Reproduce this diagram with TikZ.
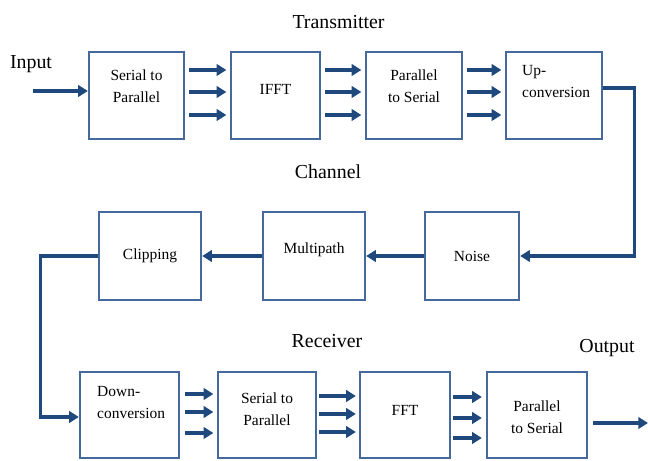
\documentclass[tikz,border=0pt]{standalone}
\usepackage{fontspec}
\setmainfont{Liberation Serif}
\usetikzlibrary{arrows.meta,positioning}
\definecolor{boxblue}{RGB}{70,105,155}
\definecolor{arrowblue}{RGB}{31,73,125}

\begin{document}
\begin{tikzpicture}[
		block/.style={draw=boxblue, line width=1.3pt, inner sep=0pt, minimum height=1.74cm},
		blocktxt/.style={font=\fontsize{8.8}{12.5}\selectfont, align=center, inner sep=0pt},
		title/.style={font=\fontsize{11.3}{13}\selectfont, inner sep=0pt},
		flow/.style={draw=arrowblue, line width=1.8pt, -{Triangle[length=5.5pt,width=6.5pt]}},
		]
		\useasboundingbox (0,0) rectangle (12.96,9.22);
	
		% --- Transmitter ---
		\node[title] (tx) at (6.77,8.78) {Transmitter};
		\node[title] (inlbl) at (0.62,7.94) {Input};
		\node[block, minimum width=1.9cm] (sp1) at (2.73,7.31) {};
		\node[block, minimum width=1.78cm] (ifft) at (5.51,7.31) {};
		\node[block, minimum width=1.92cm] (ps1) at (8.28,7.31) {};
		\node[block, minimum width=1.92cm] (up) at (11.08,7.31) {};
		\node[blocktxt] (sp1-t) at ([yshift=0.19cm]sp1.center) {Serial to\\Parallel};
		\node[blocktxt] (ifft-t) at ([yshift=0.13cm]ifft.center) {IFFT};
		\node[blocktxt] (ps1-t) at ([yshift=0.19cm]ps1.center) {Parallel\\to Serial};
		\node[blocktxt, anchor=west, align=left] (up-t) at ([xshift=0.34cm,yshift=0.27cm]up.west) {Up-\\conversion};
	
		% --- Channel ---
		\node[title] (chn) at (6.56,5.78) {Channel};
		\node[block, minimum width=1.88cm, minimum height=1.76cm] (noise) at (9.44,4.10) {};
		\node[block, minimum width=2.04cm, minimum height=1.76cm] (multi) at (6.28,4.10) {};
		\node[block, minimum width=2.04cm, minimum height=1.76cm] (clip) at (3.0,4.10) {};
		\node[blocktxt] (noise-t) at (noise.center) {Noise};
		\node[blocktxt] (multi-t) at ([yshift=0.12cm]multi.center) {Multipath};
		\node[blocktxt] (clip-t) at (clip.center) {Clipping};
	
		% --- Receiver ---
		\node[title] (rx) at (6.54,2.40) {Receiver};
		\node[title] (outlbl) at (12.14,2.26) {Output};
		\node[block, minimum width=1.98cm, minimum height=1.72cm] (down) at (2.59,0.92) {};
		\node[block, minimum width=1.96cm, minimum height=1.72cm] (sp2) at (5.34,0.92) {};
		\node[block, minimum width=1.8cm, minimum height=1.72cm] (fft) at (8.10,0.92) {};
		\node[block, minimum width=2.0cm, minimum height=1.72cm] (ps2) at (10.74,0.92) {};
		\node[blocktxt, anchor=west, align=left] (down-t) at ([xshift=0.36cm,yshift=0.25cm]down.west) {Down-\\conversion};
		\node[blocktxt] (sp2-t) at ([yshift=0.12cm]sp2.center) {Serial to\\Parallel};
		\node[blocktxt] (fft-t) at ([yshift=0.10cm]fft.center) {FFT};
		\node[blocktxt] (ps2-t) at ([yshift=-0.05cm]ps2.center) {Parallel\\to Serial};
	
		% parallel arrows
		\foreach \a/\b in {sp1/ifft, ifft/ps1, ps1/up}
			\foreach \dy in {0.51,0.07,-0.39}
				\draw[flow] ([xshift=0.08cm,yshift=\dy cm]\a.east) -- ([xshift=-0.07cm,yshift=\dy cm]\b.west);
		\foreach \dy in {0.42,0.06,-0.36}
			\draw[flow] ([xshift=0.1cm,yshift=\dy cm]down.east) -- ([xshift=-0.07cm,yshift=\dy cm]sp2.west);
		\foreach \dy in {0.38,0.02,-0.34}
			\draw[flow] ([xshift=0.04cm,yshift=\dy cm]sp2.east) -- ([xshift=-0.06cm,yshift=\dy cm]fft.west);
		\foreach \dy in {0.36,-0.06,-0.46}
			\draw[flow] ([xshift=0.04cm,yshift=\dy cm]fft.east) -- ([xshift=-0.08cm,yshift=\dy cm]ps2.west);
	
		% in / out
		\coordinate (in) at (0.66,7.40);
		\coordinate (out) at (12.96,0.76);
		\draw[flow] (in) -- (in -| sp1.west);
		\draw[flow] ([xshift=0.1cm]ps2.east |- out) -- (out);
	
		% channel path
		\draw[flow] ([yshift=0.15cm]up.east) -- ++(0.62,0) |- (noise.east);
		\draw[flow] (noise) -- (multi);
		\draw[flow] (multi) -- (clip);
		\draw[flow] (clip.west) -- ++(-1.14,0) |- ([yshift=-0.04cm]down.west);
	
	\end{tikzpicture}
\end{document}
